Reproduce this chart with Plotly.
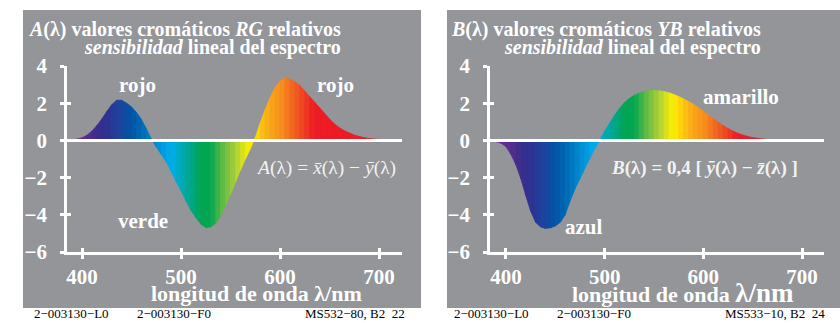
import numpy as np
import plotly.graph_objects as go

# ---------------- data ----------------
wl_A = list(range(385, 725, 5))
A_vals = [0.01, 0.03, 0.07, 0.14, 0.28, 0.50, 0.80, 1.15, 1.55, 1.92,
          2.16, 2.16, 2.00, 1.80, 1.50, 1.12, 0.62, 0.08, -0.35, -0.75,
          -1.15, -1.65, -2.20, -2.70, -3.25, -3.75, -4.15, -4.50, -4.68, -4.65,
          -4.45, -4.05, -3.50, -2.90, -2.25, -1.60, -1.00, -0.45, 0.15, 0.95,
          1.65, 2.30, 2.85, 3.20, 3.34, 3.30, 3.15, 2.95, 2.65, 2.35,
          2.05, 1.75, 1.45, 1.15, 0.88, 0.68, 0.52, 0.40, 0.29, 0.21,
          0.15, 0.10, 0.07, 0.05, 0.03, 0.02, 0.01, 0.00]

wl_B = list(range(385, 705, 5))
B_vals = [-0.02, -0.06, -0.15, -0.33, -0.75, -1.30, -2.05, -2.95, -3.80, -4.40,
          -4.65, -4.73, -4.70, -4.60, -4.40, -4.00, -3.25, -2.60, -2.05, -1.50,
          -0.95, -0.45, 0.02, 0.50, 0.92, 1.35, 1.72, 2.02, 2.25, 2.42,
          2.54, 2.62, 2.67, 2.68, 2.67, 2.63, 2.56, 2.47, 2.36, 2.23,
          2.09, 1.94, 1.76, 1.57, 1.37, 1.17, 0.98, 0.80, 0.64, 0.50,
          0.38, 0.29, 0.21, 0.15, 0.11, 0.08, 0.05, 0.035, 0.025, 0.015,
          0.01, 0.005, 0.003, 0.0]

x_ticks = [400, 500, 600, 700]
x_tick_text = ["400", "500", "600", "700"]
y_ticks = [-6, -4, -2, 0, 2, 4]
y_tick_text = ["\u22126", "\u22124", "\u22122", "0", "2", "4"]

# ---------------- styles ----------------
W, H = 840, 323
GRAY = "rgb(147,149,152)"
SERIF = "Liberation Serif, Times New Roman, serif"

spec_stops = [380, 400, 415, 425, 440, 450, 465, 480, 490, 500, 510, 520, 530,
              540, 550, 560, 570, 580, 590, 600, 610, 620, 635, 720]
spec_rgb = [(110, 50, 150), (100, 45, 145), (60, 45, 140), (46, 49, 146),
            (28, 70, 160), (0, 84, 166), (0, 114, 188), (0, 150, 220),
            (0, 174, 239), (0, 170, 185), (0, 166, 140), (0, 166, 81),
            (0, 166, 81), (80, 184, 72), (141, 198, 63), (200, 219, 42),
            (255, 242, 0), (255, 200, 15), (250, 166, 26), (247, 148, 29),
            (243, 112, 33), (240, 80, 35), (237, 28, 36), (237, 28, 36)]
spec_rgb = np.array(spec_rgb, dtype=float)


def spec_color(lam):
    r = np.interp(lam, spec_stops, spec_rgb[:, 0])
    g = np.interp(lam, spec_stops, spec_rgb[:, 1])
    b = np.interp(lam, spec_stops, spec_rgb[:, 2])
    return f"rgb({int(r)},{int(g)},{int(b)})"


def px(x):
    return x / W


def py(y):
    return 1 - y / H


fig = go.Figure()


def add_stripes(wl, vals, xa, ya):
    for i in range(len(wl) - 1):
        l0, l1 = wl[i], wl[i + 1]
        v0, v1 = vals[i], vals[i + 1]
        c = spec_color((l0 + l1) / 2)
        fig.add_trace(go.Scatter(
            x=[l0, l0, l1, l1, l0], y=[0, v0, v1, 0, 0],
            mode="lines", fill="toself", fillcolor=c,
            line=dict(color=c, width=0.8),
            xaxis=xa, yaxis=ya, hoverinfo="skip", showlegend=False))


add_stripes(wl_A, A_vals, "x", "y")
add_stripes(wl_B, B_vals, "x2", "y2")

# empty traces so the overlay axes (crossing ticks) get drawn
fig.add_trace(go.Scatter(x=[None], y=[None], xaxis="x3", yaxis="y3", showlegend=False, hoverinfo="skip"))
fig.add_trace(go.Scatter(x=[None], y=[None], xaxis="x4", yaxis="y4", showlegend=False, hoverinfo="skip"))

ydom = [py(252), py(66)]
xr_left = [384.8, 723.2]
xr_right = [383.8, 722.3]

base_x = dict(showgrid=False, zeroline=False, showline=True, linecolor="white",
              linewidth=3, ticks="outside", ticklen=4, tickwidth=2.5,
              tickcolor="white", tickvals=x_ticks,
              ticktext=["<b>" + t + "</b>" for t in x_tick_text],
              tickfont=dict(family=SERIF, size=21, color="white"),
              automargin=False, fixedrange=True)
base_y = dict(showgrid=False, zeroline=False, showline=True, linecolor="white",
              linewidth=2.5, ticks="outside", ticklen=4, tickwidth=2.5,
              tickcolor="white", tickvals=y_ticks,
              ticktext=["<b>" + t + "</b>" for t in y_tick_text],
              range=[-6, 4], domain=ydom, ticklabelstandoff=9,
              tickfont=dict(family=SERIF, size=21, color="white"),
              automargin=False, fixedrange=True)
ov_x = dict(showgrid=False, zeroline=False, showline=False, ticks="inside",
            ticklen=4, tickwidth=2.5, tickcolor="white", tickvals=x_ticks,
            showticklabels=False, automargin=False, fixedrange=True)
ov_y = dict(showgrid=False, zeroline=False, showline=False, ticks="inside",
            ticklen=4, tickwidth=2.5, tickcolor="white", tickvals=y_ticks,
            showticklabels=False, range=[-6, 4], automargin=False, fixedrange=True)

fig.update_layout(
    width=W, height=H, autosize=False,
    margin=dict(l=0, r=0, t=0, b=0, pad=0, autoexpand=False),
    paper_bgcolor="white", plot_bgcolor="rgba(0,0,0,0)", showlegend=False,
    xaxis=dict(base_x, domain=[px(67), px(402)], range=xr_left, anchor="y"),
    yaxis=dict(base_y, anchor="x"),
    xaxis2=dict(base_x, domain=[px(490), px(824)], range=xr_right, anchor="y2"),
    yaxis2=dict(base_y, anchor="x2"),
    xaxis3=dict(ov_x, overlaying="x", anchor="y3", range=xr_left),
    yaxis3=dict(ov_y, overlaying="y", anchor="x3"),
    xaxis4=dict(ov_x, overlaying="x2", anchor="y4", range=xr_right),
    yaxis4=dict(ov_y, overlaying="y2", anchor="x4"),
)

# gray panels and zero lines
shapes = [
    dict(type="rect", xref="paper", yref="paper", x0=px(23), x1=px(421),
         y0=py(308), y1=py(10), fillcolor=GRAY, line=dict(width=0), layer="below"),
    dict(type="rect", xref="paper", yref="paper", x0=px(447), x1=px(840),
         y0=py(308), y1=py(10), fillcolor=GRAY, line=dict(width=0), layer="below"),
    dict(type="line", xref="x domain", yref="y", x0=0, x1=1, y0=0, y1=0,
         line=dict(color="white", width=3), layer="above"),
    dict(type="line", xref="x2 domain", yref="y2", x0=0, x1=1, y0=0, y1=0,
         line=dict(color="white", width=3), layer="above"),
]
fig.update_layout(shapes=shapes)


def ann(x, y, text, size, color="white", xanchor="center", bold=True,
        yanchor="middle", family=SERIF):
    if bold:
        text = "<b>" + text + "</b>"
    return dict(x=px(x), y=py(y), xref="paper", yref="paper", text=text,
                showarrow=False, xanchor=xanchor, yanchor=yanchor,
                font=dict(family=family, size=size, color=color))


FOOT_Y = 323
annotations = [
    ann(343, 29, "<i>A</i>(λ) valores cromáticos <i>RG</i> relativos", 20, xanchor="right"),
    ann(343, 48, "<i>sensibilidad</i> lineal del espectro", 20, xanchor="right"),
    ann(763, 29, "<i>B</i>(λ) valores cromáticos <i>YB</i> relativos", 20, xanchor="right"),
    ann(763, 48, "<i>sensibilidad</i> lineal del espectro", 20, xanchor="right"),
    ann(137, 85, "rojo", 21),
    ann(335, 85, "rojo", 21),
    ann(143, 221, "verde", 21),
    ann(741, 97, "amarillo", 21),
    ann(584, 227, "azul", 21),
    ann(326, 168, "<i>A</i>(λ) = <i>x\u0304</i>(λ) \u2212 <i>y\u0304</i>(λ)", 19.5,
        color="#f2f2f2", bold=False),
    ann(704, 168, "<i>B</i>(λ) = 0,4 [ <i>y\u0304</i>(λ) \u2212 <i>z\u0304</i>(λ) ]", 19,
        color="#f2f2f2", bold=True),
    ann(256, 293, "longitud de onda λ/nm", 22),
    ann(683, 293, "longitud de onda <span style='font-size:27px'>λ/nm</span>", 22),
    ann(32, FOOT_Y, "2\u2212003130\u2212L0", 13, color="black", xanchor="left",
        bold=False, yanchor="bottom"),
    ann(135, FOOT_Y, "2\u2212003130\u2212F0", 13, color="black", xanchor="left",
        bold=False, yanchor="bottom"),
    ann(407, FOOT_Y, "MS532\u221280, B2  22", 13, color="black", xanchor="right",
        bold=False, yanchor="bottom"),
    ann(452, FOOT_Y, "2\u2212003130\u2212L0", 13, color="black", xanchor="left",
        bold=False, yanchor="bottom"),
    ann(555, FOOT_Y, "2\u2212003130\u2212F0", 13, color="black", xanchor="left",
        bold=False, yanchor="bottom"),
    ann(827, FOOT_Y, "MS533\u221210, B2  24", 13, color="black", xanchor="right",
        bold=False, yanchor="bottom"),
]
fig.update_layout(annotations=annotations)

fig.write_html("out.html")
